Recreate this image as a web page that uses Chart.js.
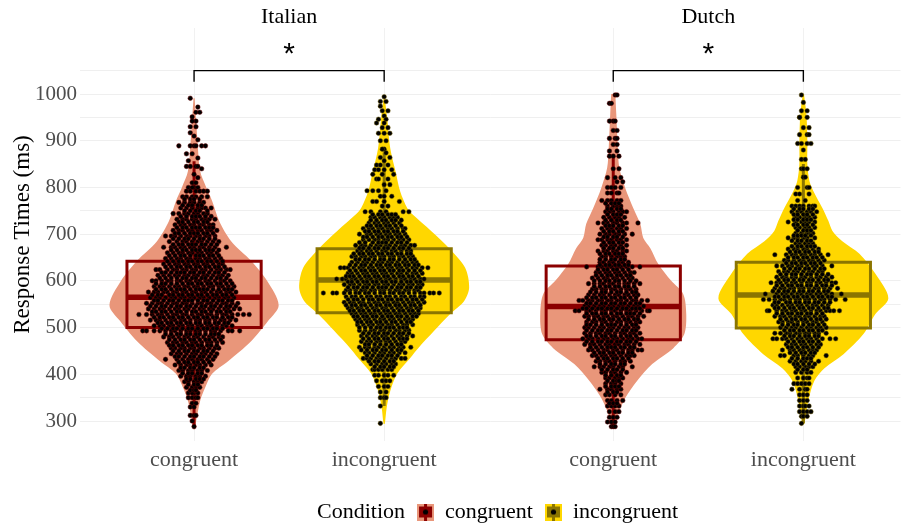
<!DOCTYPE html>
<html>
<head>
<meta charset="utf-8">
<title>Response Times</title>
<style>
  html, body { margin: 0; padding: 0; background: #fff; }
  canvas { display: block; }
</style>
<script src="https://cdn.jsdelivr.net/npm/chart.js@4"></script>
</head>
<body>
<canvas id="my-chart" width="905" height="524"></canvas>
<script>
'use strict';

// ******** DATA **************
let facetNames = ['Italian', 'Dutch'];
let conditionNames = ['congruent', 'incongruent'];
let categoryLabels = ['congruent', 'incongruent', 'congruent', 'incongruent'];
let categoryPositions = [1, 2, 3.205, 4.205];
let facetCentres = [1.5, 3.705];
let gridValues = [300, 350, 400, 500, 550, 600, 700, 750, 800, 900, 950, 1000, 1050];
let tickLabels = [300, 400, 500, 600, 700, 800, 900, 1000];
let starLabel = '*';

// box stats: low whisker, q1, median, q3, high whisker
let italianCongruentBox = [288, 500, 565, 642, 856];
let italianIncongruentBox = [332, 532, 602, 669, 875];
let dutchCongruentBox = [290, 474, 545, 632, 867];
let dutchIncongruentBox = [295, 499, 570, 640, 850];

// violin outlines: response time and half width in category units
let italianCongruentRt = [991, 942, 899, 835, 801, 771, 728, 685, 643, 600, 548, 514, 471, 428, 401, 371, 343, 300, 283];
let italianCongruentWidth = [.003, .011, .018, .032, .063, .095, .132, .195, .300, .384, .445, .389, .300, .179, .095, .058, .032, .011, .003];
let italianIncongruentRt = [991, 949, 884, 829, 792, 756, 743, 707, 670, 628, 585, 557, 529, 493, 456, 435, 401, 364, 328, 294];
let italianIncongruentWidth = [.003, .016, .032, .063, .084, .121, .147, .247, .342, .426, .447, .421, .347, .263, .179, .137, .068, .032, .013, .003];
let dutchCongruentRt = [1000, 957, 884, 842, 799, 756, 722, 692, 670, 636, 600, 572, 529, 486, 456, 422, 386, 349, 315, 285];
let dutchCongruentWidth = [.011, .016, .024, .032, .063, .105, .142, .158, .195, .237, .305, .368, .384, .374, .316, .205, .126, .063, .026, .005];
let dutchIncongruentRt = [1000, 957, 899, 850, 814, 792, 756, 728, 707, 685, 658, 615, 563, 529, 486, 443, 413, 386, 343, 294];
let dutchIncongruentWidth = [.003, .016, .021, .021, .032, .053, .100, .132, .153, .205, .295, .379, .447, .379, .316, .211, .111, .058, .026, .005];

// trial dots: each row is [rt, then jitter in hundredths of a category]
let italianCongruentDots = [
  [991,-2],[972,2],[961,1,3],[951,-1],[942,1,-1],[930,-2,1],[917,-2],[910,0],[902,2],[889,-8,-2,0,1,4,6],[872,-4,-1],[863,2],[857,-3],[845,-4,-2,1,2],[840,4],[828,0],[821,2],[810,-1,1],
  [800,-3,0,2,-1],[792,-4,-2,1,3,5,7],[780,-6,-4,-1,1,4,7],[768,-5,-2,0,3,5,-8],[756,-7,-4,-1,2,4,6,9],[744,-8,-5,-3,0,2,5,7,-11],[732,-9,-6,-4,-1,1,4,6,8,11],[720,-10,-7,-5,-2,0,3,5,8,10],
  [708,-11,-8,-6,-3,-1,2,4,7,9,12],[696,-12,-10,-7,-4,-2,1,3,6,8,11,-15],[684,-13,-9,-6,-4,-1,2,4,7,10,13],[672,-12,-10,-7,-5,-2,0,3,5,8,11,-16,17],[660,-14,-11,-8,-6,-3,-1,2,4,7,9,12],
  [648,-15,-12,-9,-7,-4,-2,1,3,6,8,11,14],[636,-16,-13,-10,-8,-5,-3,0,2,5,7,10,13,15],[624,-20,-18,-14,-11,-9,-6,-4,-1,1,4,6,9,12,14,17,19],[612,-19,-16,-13,-10,-8,-5,-3,0,2,5,7,10,13,15,18],
  [600,-22,-20,-17,-14,-12,-9,-7,-4,-2,1,3,6,8,11,14,16,19],[588,-21,-18,-16,-13,-10,-8,-5,-3,0,2,5,8,10,13,15,18,21],[576,-24,-21,-19,-16,-14,-11,-9,-6,-4,-1,1,4,6,9,12,14,17,19,22],
  [564,-23,-20,-18,-15,-12,-10,-7,-5,-2,0,3,5,8,11,13,16,18,21],[552,-25,-22,-19,-17,-14,-11,-9,-6,-4,-1,2,4,7,9,12,15,17,20,23],[540,-24,-21,-18,-16,-13,-10,-8,-5,-3,0,3,5,8,10,13,16,18,21,24],
  [528,-29,-25,-22,-19,-17,-14,-11,-9,-6,-4,-1,2,4,7,9,12,15,17,20,23,26,29],[516,-23,-20,-18,-15,-12,-10,-7,-5,-2,1,3,6,8,11,14,16,19,22],[504,-21,-18,-16,-13,-11,-8,-6,-3,-1,2,4,7,9,12,15,17,20],
  [493,-27,-25,-21,-18,-15,-12,-10,-7,-4,-2,1,3,6,9,11,14,18,20,24],[480,-16,-13,-11,-8,-5,-3,0,2,5,8,10,13,15],[468,-14,-11,-9,-6,-4,-1,1,4,7,9,12,15],[456,-12,-10,-7,-5,-2,0,3,5,8,11,13],
  [444,-12,-9,-7,-4,-1,1,4,6,9,12],[432,-15,-9,-6,-3,-1,2,4,7,10],[420,-10,-7,-4,-2,1,3,6,9],[408,-8,-6,-3,-1,2,4,7],[396,-7,-4,-2,1,3,6],[384,-5,-3,0,2,4],[372,-4,-1,1,3],[360,-3,0,2,-1],
  [350,-3,-1,1,2],[338,-1,1],[330,-2,0],[312,-2,0,1],[300,-1],[288,0],
  [775,-5,-2,0,3],[762,-6,-3,-1,2,4],[750,-5,-2,1,3,7],[738,-7,-4,-1,1,3,6,9],[726,-8,-6,-3,0,2,5,7],[714,-9,-6,-4,-1,1,3,6,8,10],[702,-10,-8,-5,-2,0,2,5,7,10],[690,-11,-8,-5,-3,0,3,5,8,11],
  [678,-11,-8,-6,-3,-1,1,4,6,9,12],[666,-12,-9,-6,-4,-1,1,3,6,8,10,13],[654,-13,-10,-7,-5,-2,1,3,5,8,10,13],[642,-14,-11,-8,-6,-3,-1,2,4,7,9,12,15],[630,-15,-12,-9,-7,-4,-2,1,3,6,8,11,13,16],
  [618,-17,-15,-12,-9,-7,-5,-2,0,3,5,8,11,13,16],[606,-18,-15,-12,-9,-6,-4,-1,1,4,6,9,12,14,17],[594,-20,-17,-15,-12,-9,-6,-3,-1,2,4,7,9,12,14,17,20],[582,-20,-17,-15,-12,-9,-7,-5,-2,1,3,5,7,10,13,16,18,20],
  [570,-22,-19,-17,-13,-11,-8,-6,-3,-1,2,4,7,10,12,15,17,20],[558,-21,-19,-16,-13,-11,-8,-5,-3,-1,2,5,7,10,13,15,18,20],[546,-23,-20,-17,-15,-12,-9,-7,-4,-2,1,4,6,9,11,14,17,19,22],
  [534,-22,-20,-17,-15,-12,-9,-7,-4,-1,1,4,6,9,12,14,17,19],[522,-21,-18,-16,-13,-11,-8,-6,-3,0,2,5,7,10,12,15,18,20],[510,-19,-17,-14,-12,-9,-7,-4,-2,1,3,6,8,11,13,16,18],
  [498,-17,-14,-11,-9,-6,-3,-1,2,5,7,10,12,15],[486,-15,-12,-9,-7,-4,-2,1,3,6,9,11,13],[474,-13,-10,-7,-5,-2,0,3,6,8,11,14],[462,-13,-11,-8,-6,-3,-1,2,4,7,9,12],[450,-11,-8,-5,-3,0,2,5,7,10],
  [438,-10,-8,-5,-2,0,3,5,8,11],[426,-8,-5,-3,0,2,5,8],[414,-7,-5,-2,0,3,5],[402,-6,-3,-1,2,4],[390,-4,-2,1,3,5],[378,-3,0,2],[366,-2,0,1]
];
let italianIncongruentDots = [
  [994,0],[984,-2,1],[974,-2],[964,-1,2],[953,0],[946,-3,1],[938,-4,0],[928,2,-1],[916,0,-3,3],[900,-2,1],[882,0,-1],[874,1],[864,-2,3],[857,0],[848,-4,-2,2],[838,-5,-3,0,4],[828,-6,-1,5],[818,-4,-3,2],
  [806,3,0],[793,-9,-6,-3,1],[781,-2,0,4],[770,-6,-4,0,8],[760,-1,2],[748,-10,-7,-2,1,10,13],[736,-7,-5,-2,0,3,5,7],[724,-8,-5,-3,0,2,5,8],[712,-11,-8,-6,-3,-1,2,4,7,10,11],[700,-13,-9,-7,-4,-2,1,3,6,8,11],
  [688,-11,-8,-5,-3,0,2,5,8,10,13],[676,-15,-12,-10,-7,-4,-2,1,3,6,9,11,14,16],[664,-14,-12,-9,-7,-4,-1,1,4,6,9,12,14],[652,-17,-15,-12,-10,-7,-5,-2,0,3,5,8,10,13,15],[640,-17,-14,-11,-9,-6,-3,-1,2,4,7,10,12,15,17],
  [628,-23,-21,-19,-16,-13,-11,-8,-6,-3,-1,2,4,7,9,12,15,17,20,23],[616,-19,-17,-14,-11,-9,-6,-4,-1,1,4,7,9,12,15,17,20],[604,-25,-22,-20,-17,-15,-12,-9,-7,-4,-2,1,3,6,9,11,14,16,19,21],
  [592,-21,-18,-16,-13,-10,-8,-5,-3,0,2,5,8,10,13,15,18,20],[580,-20,-18,-15,-12,-10,-7,-5,-2,0,3,6,8,11,13,16,18],[574,-32,-27,-25,-21,-18,-15,-13,-10,-8,-5,-2,0,3,5,8,10,13,16,19,21,24,26,29],
  [566,-20,-17,-15,-12,-9,-7,-4,-2,1,3,6,9,11,14,16,19,21],[554,-21,-18,-16,-13,-11,-8,-5,-3,0,2,5,7,10,13,15,18,21],[542,-19,-17,-14,-12,-9,-6,-4,-1,1,4,7,9,12,14,17,19],[530,-17,-15,-12,-10,-7,-5,-2,1,3,6,8,11,14,16,18],
  [518,-15,-13,-10,-8,-5,-2,0,3,5,8,11,13,15],[506,-14,-11,-8,-6,-3,-1,2,4,7,10,12,15],[494,-13,-10,-7,-5,-2,0,3,6,8,11,13],[482,-12,-9,-6,-4,-1,1,4,7,9,12,15],[470,-12,-9,-7,-4,-2,1,3,6,9,11],
  [458,-13,-10,-8,-5,-3,0,3,5,8,10,14],[446,-10,-8,-5,-2,0,3,5,8,11],[434,-11,-9,-7,-4,-2,1,4,6,9,11],[422,-7,-4,-1,1,4,6],[410,-6,-5,-3,-1,2,4],[398,-5,-3,0,2,5],[386,-4,-1,1,3],[374,-3,0,2],[362,-2,1],[350,-2,0,1],[332,-2],[295,-2],
  [742,-6,-3,-1,2,4,6],[730,-7,-4,-1,1,4,6,9],[718,-9,-7,-4,-2,1,3,6,9],[706,-10,-8,-5,-3,0,2,5,7,10],[694,-11,-9,-6,-3,-1,2,4,7,9,12],[682,-13,-10,-6,-3,-1,1,4,7,9,12],[670,-13,-11,-8,-5,-3,0,2,5,8,10,13],
  [658,-16,-13,-11,-8,-6,-3,-1,2,4,7,9,12,14],[646,-15,-13,-10,-8,-5,-2,0,3,5,8,11,14,16],[634,-18,-15,-12,-10,-7,-4,-2,1,3,6,8,11,13,16,18],[622,-18,-15,-12,-10,-7,-5,-2,0,3,5,8,10,13,16,19],
  [610,-20,-18,-16,-13,-10,-8,-5,-3,0,2,5,8,10,13,15,18],[598,-19,-17,-14,-11,-9,-6,-4,-1,1,4,6,9,12,14,17,19],[586,-19,-16,-14,-11,-9,-6,-3,-1,1,4,7,9,12,14,17,19],[560,-19,-16,-14,-11,-8,-6,-3,-1,2,4,7,9,12,15,17,20],
  [548,-20,-17,-15,-12,-10,-7,-4,-2,1,3,6,8,11,14,16,19],[536,-18,-16,-13,-11,-8,-5,-3,0,2,5,8,10,13,15,18],[524,-16,-14,-11,-9,-6,-4,-1,2,4,7,9,12,15,17],[512,-14,-12,-9,-7,-4,-2,1,4,6,9,12,14],
  [500,-13,-10,-7,-4,-2,1,3,5,8,10,12],[488,-11,-8,-5,-3,0,2,5,8,10,13],[476,-11,-8,-5,-3,0,2,5,8,10,12],[464,-10,-8,-5,-2,1,4,7,9],[452,-12,-9,-6,-4,-1,1,4,7,9],[440,-9,-6,-3,-1,2,4,7],[428,-8,-5,-3,0,3,5],[416,-5,-2,0,3,5]
];
let dutchCongruentDots = [
  [998,1,2],[980,-2,-1],[942,-2,0,1],[922,0,2],[905,-2,1,2],[892,0,2],[878,-2,2],[867,-2,0,3],[840,0,3],[821,-3,1,4],[812,2,5],[800,-3,-1,1,4],[788,-3,-1,2,3],[772,-6,-3,-1,2,4],[760,-3,0,2,4],[748,-4,-2,0,3,5,7],
  [736,-5,-2,1,3,6],[724,-8,-5,-3,0,2,5,7,13],[712,-6,-3,-1,2,4,7],[700,-7,-4,-2,1,3,6,10],[688,-8,-6,-3,-1,2,4,7],[676,-6,-4,-1,1,4,7],[664,-8,-5,-3,0,2,5,7],[652,-6,-4,-1,2,4,6],[640,-7,-5,-2,0,3,5,8],
  [630,-14,-8,-6,-3,-1,2,4,7,10,14],[618,-9,-7,-4,-2,1,3,6,9,11],[606,-11,-8,-5,-3,0,2,5,8,10],[594,-13,-10,-7,-5,-2,0,3,6,8,11,14],[582,-11,-9,-6,-4,-1,1,4,7,9,12],[570,-13,-10,-7,-5,-2,1,3,6,8,11,13],
  [558,-18,-16,-13,-11,-8,-6,-3,-1,2,4,7,10,12,15,18],[546,-15,-13,-10,-7,-5,-2,0,3,5,8,11,13,16],[536,-20,-18,-14,-12,-9,-6,-4,-1,1,4,7,9,12,15,18,19],[524,-15,-13,-10,-8,-5,-3,0,2,5,8,10,13,16],
  [512,-14,-11,-9,-6,-4,-1,2,4,7,9,12,14],[500,-15,-13,-10,-7,-5,-2,0,3,6,8,11,13],[488,-15,-12,-9,-7,-4,-2,1,4,6,9,11,14],[476,-16,-13,-11,-8,-5,-3,0,2,5,8,10,13,15],[464,-15,-12,-10,-7,-4,-2,1,3,6,8,11,14],
  [452,-13,-11,-8,-5,-3,0,2,5,8,10,13,15],[440,-11,-9,-6,-4,-1,1,4,7,9,11],[428,-9,-7,-4,-2,1,4,6,9],[416,-10,-7,-5,-2,0,3,5,10],[404,-6,-4,-1,1,4,7],[392,-4,-2,1,3,5],[380,-4,-1,1,4],[368,-7,-3,-1,2,4],
  [356,-4,-2,1,4],[344,-3,-1,2,5],[332,-3,-1,1,3],[320,-2,1,3],[308,-2,0,2],[298,-3,-1,1],[288,-1,0,1],
  [766,-4,-1,1,3],[754,-3,-1,2,4],[742,-3,0,2,4],[730,-4,-1,2,4],[718,-4,-2,0,3,5],[706,-5,-2,0,3,5],[694,-5,-3,0,2,5],[682,-5,-2,0,3,5],[670,-5,-2,0,3,5],[658,-7,-4,-2,1,3,5],[646,-7,-4,-1,1,4,6],
  [634,-7,-4,-2,1,3,6,8],[624,-8,-5,-3,0,2,5,8],[612,-9,-6,-3,-1,2,4,7,9],[600,-10,-7,-4,-2,1,3,6,9,12],[588,-10,-7,-4,-2,1,3,6,8,11],[576,-12,-9,-6,-4,-1,2,4,7,10,12],[564,-14,-11,-9,-6,-4,-1,1,4,6,9,12],
  [552,-14,-12,-9,-6,-4,-1,1,4,6,9,12,14],[541,-16,-14,-11,-8,-6,-3,-1,2,5,7,10,12,14],[530,-14,-11,-9,-6,-4,-1,2,4,7,9,11,14],[518,-13,-10,-7,-5,-2,0,3,6,8,11,13],[506,-14,-12,-9,-6,-3,-1,1,4,7,10,12],
  [494,-14,-11,-8,-6,-3,-1,2,5,7,10,12],[482,-14,-12,-9,-6,-4,-1,1,4,7,9,12],[470,-14,-11,-8,-6,-3,-1,2,4,7,9,12],[458,-12,-9,-6,-3,-1,1,4,6,9,11],[446,-10,-7,-5,-2,0,3,5,8,10],[434,-8,-5,-3,0,2,5,8],
  [422,-7,-4,-1,1,4,6],[410,-6,-3,0,2,5],[398,-4,-1,2,4],[386,-3,0,2,3],[374,-4,-1,1,3],[362,-3,0,2],[338,-2,0,2]
];
let dutchIncongruentDots = [
  [998,-1],[982,0],[964,-1,2],[950,-2,-2,2],[928,0,3],[913,-2,2,3],[894,-3,-1,2,4],[880,0],[860,-1,1],[840,-1,0,2],[822,0,1],[800,-3,2,3],[786,-4,-2,3],[772,-3,1],[760,-6,-4,-2,0,3,5,6],[748,-6,-3,-1,2,4,7],[736,-4,-2,1,3,6],
  [726,-8,-4,-1,1,3,6],[714,-4,-2,1,3,6],[702,-4,-1,2,4,5],[692,-8,-5,-3,0,2,6],[680,-4,-2,1,3,5],[668,-8,-5,-3,0,2,5,8],[656,-15,-9,-6,-4,-1,1,4,6,9,13],[644,-10,-8,-5,-2,0,3,5,8,11],[632,-14,-11,-8,-6,-3,-1,2,5,7,10,15],
  [620,-13,-10,-8,-5,-3,0,3,5,8,10],[608,-14,-11,-9,-6,-4,-1,1,4,7,9,12,15],[596,-17,-14,-12,-9,-6,-4,-1,2,4,7,9,12,15,17],[584,-15,-12,-10,-7,-5,-2,0,3,6,8,11,14,18],[572,-20,-14,-11,-9,-6,-3,-1,2,4,7,9,12,15,20],
  [560,-21,-18,-15,-12,-10,-7,-4,-2,1,3,6,9,11,14,17,22],[548,-16,-14,-11,-8,-6,-3,-1,2,5,7,10,13],[536,-19,-18,-14,-11,-9,-6,-4,-1,1,4,7,9,12,14,16,19],[524,-15,-12,-10,-7,-4,-2,1,3,6,9,11],[512,-13,-11,-8,-6,-3,0,2,5,7,10],
  [500,-12,-9,-6,-4,-1,2,4,7,9,12],[488,-15,-12,-9,-7,-4,-2,1,3,6,8,12],[476,-16,-14,-11,-9,-6,-3,-1,2,4,7,10,14,17],[464,-9,-6,-4,-1,1,4,7,9],[452,-11,-7,-5,-2,0,3,5,7],[440,-12,-10,-5,-3,0,3,5,12],[428,-7,-4,-1,1,4,8],
  [416,-4,-2,1,3,5],[404,-4,-1,2,4],[392,-3,0,2,3],[380,-5,-3,-1,1,3],[368,-6,-2,1,2],[356,-2,0,2],[344,-2,0,2],[332,-2,0,1,3],[320,-2,0,2,4],[310,-1,0,2],[295,-1],
  [754,-5,-2,0,3,5],[742,-5,-3,0,2,5],[731,-5,-3,0,2,4],[720,-5,-3,0,2,5],[708,-3,0,2,4],[697,-5,-3,-1,1,4],[686,-6,-3,-1,2,4],[674,-6,-3,-1,2,4,6],[662,-7,-4,-2,1,3,6,8],[650,-8,-5,-3,0,2,5,7,10],
  [638,-9,-6,-4,-1,1,4,6,9],[626,-10,-7,-4,-2,1,3,6,9,11],[614,-12,-9,-6,-4,-1,2,4,7,10,13],[602,-13,-10,-8,-5,-2,0,3,5,8,11,13],[590,-14,-11,-8,-6,-3,-1,2,4,7,10,12,15],[578,-16,-13,-10,-8,-5,-2,0,3,5,8,11,13],
  [566,-15,-13,-10,-8,-5,-3,0,2,5,8,10,13,15],[554,-15,-13,-9,-7,-4,-2,1,3,6,8,11,14],[542,-15,-13,-10,-7,-5,-2,0,3,5,8,11,13],[530,-14,-11,-8,-6,-3,-1,2,4,7,10],[518,-12,-9,-6,-4,-1,1,4,7,9,12],
  [506,-11,-8,-5,-3,0,3,5,8,11],[494,-10,-7,-5,-2,0,3,5,8,10],[482,-10,-7,-5,-2,1,3,6,8],[470,-8,-5,-2,0,3,5,8],[458,-8,-6,-3,0,2,5,8],[446,-7,-4,-1,1,4,6],[434,-6,-3,0,2,4],[422,-5,-3,0,3,6],[410,-3,0,2]
];

// bracket over each facet, response times of its foot and its bar
let bracketFoot = 1026;
let bracketBar = 1050;
let starRt = 1066;
let facetTitleRt = 1165;

// ********* STYLES ****************
let serifFont = '"Liberation Serif", "Times New Roman", serif';
let starFont = '"Liberation Sans", Arial, sans-serif';
let conditionFill = ['#E9967A', '#FFD700'];
let conditionLine = ['#8B0000', '#8B7500'];
let boxHalfWidth = 0.353;

// *********** HELPER FUNCTIONS ***************

function violinOutline(centre, rts, widths) {
  let outline = [];
  for (let i = 0; i < rts.length; i++) {
    outline.push({ x: centre - widths[i], y: rts[i] });
  }
  for (let i = rts.length - 1; i >= 0; i--) {
    outline.push({ x: centre + widths[i], y: rts[i] });
  }
  return outline;
}

function dotPoints(centre, rows) {
  let points = [];
  rows.forEach(function (row) {
    for (let i = 1; i < row.length; i++) {
      points.push({ x: centre + row[i] / 100, y: row[0] });
    }
  });
  return points;
}

function lineSet(data, color, width, order) {
  return {
    data: data,
    showLine: true,
    borderColor: color,
    borderWidth: width,
    pointRadius: 0,
    fill: false,
    tension: 0,
    order: order
  };
}

function addGroup(datasets, centre, condition, rts, widths, box, rows) {
  let left = centre - boxHalfWidth;
  let right = centre + boxHalfWidth;
  let line = conditionLine[condition];

  datasets.push({
    data: violinOutline(centre, rts, widths),
    showLine: true,
    borderWidth: 0,
    borderColor: 'transparent',
    backgroundColor: conditionFill[condition],
    pointRadius: 0,
    fill: 'shape',
    tension: 0.3,
    order: 5
  });

  // whiskers, box and median
  datasets.push(lineSet([{ x: centre, y: box[0] }, { x: centre, y: box[1] }], line, 3, 4));
  datasets.push(lineSet([{ x: centre, y: box[3] }, { x: centre, y: box[4] }], line, 3, 4));
  datasets.push(lineSet([
    { x: left, y: box[1] }, { x: right, y: box[1] }, { x: right, y: box[3] },
    { x: left, y: box[3] }, { x: left, y: box[1] }, { x: right, y: box[1] }
  ], line, 3, 4));
  datasets.push(lineSet([{ x: left, y: box[2] }, { x: right, y: box[2] }], line, 5.5, 4));

  datasets.push({
    data: dotPoints(centre, rows),
    showLine: false,
    pointRadius: 2.3,
    pointBackgroundColor: '#000',
    pointBorderColor: condition === 0 ? 'rgba(110,0,0,0.9)' : 'rgba(110,90,0,0.9)',
    pointBorderWidth: 0.5,
    order: 3
  });
}

function addBracket(datasets, facet) {
  let a = categoryPositions[facet * 2];
  let b = categoryPositions[facet * 2 + 1];
  datasets.push(lineSet([
    { x: a, y: bracketFoot }, { x: a, y: bracketBar }, { x: b, y: bracketBar }, { x: b, y: bracketFoot }
  ], '#000', 1.4, 1));
}

// legend key: little box plot with a dot on it
function legendKey(condition) {
  let key = document.createElement('canvas');
  key.width = 17;
  key.height = 17;
  let ctx = key.getContext('2d');
  ctx.fillStyle = conditionFill[condition];
  ctx.fillRect(0, 0, 17, 17);
  ctx.fillStyle = conditionLine[condition];
  ctx.fillRect(2, 3, 13, 11);
  ctx.fillRect(7, 0, 3, 17);
  ctx.fillStyle = '#000';
  ctx.beginPath();
  ctx.arc(8.5, 8.5, 2.6, 0, Math.PI * 2);
  ctx.fill();
  return key;
}

function blankKey() {
  let key = document.createElement('canvas');
  key.width = 1;
  key.height = 1;
  return key;
}

// ********* DATASETS *******************
let allSets = [];
addGroup(allSets, categoryPositions[0], 0, italianCongruentRt, italianCongruentWidth, italianCongruentBox, italianCongruentDots);
addGroup(allSets, categoryPositions[1], 1, italianIncongruentRt, italianIncongruentWidth, italianIncongruentBox, italianIncongruentDots);
addGroup(allSets, categoryPositions[2], 0, dutchCongruentRt, dutchCongruentWidth, dutchCongruentBox, dutchCongruentDots);
addGroup(allSets, categoryPositions[3], 1, dutchIncongruentRt, dutchIncongruentWidth, dutchIncongruentBox, dutchIncongruentDots);
addBracket(allSets, 0);
addBracket(allSets, 1);

// ********* PLUGINS *******************

// facet strip titles and the stars above the brackets
let facetText = {
  id: 'facetText',
  afterDraw: function (chart) {
    let ctx = chart.ctx;
    let x = chart.scales.x;
    let y = chart.scales.y;
    ctx.save();
    ctx.textAlign = 'center';
    ctx.fillStyle = '#000';
    facetCentres.forEach(function (centre, i) {
      ctx.textBaseline = 'middle';
      ctx.font = '22px ' + serifFont;
      ctx.fillText(facetNames[i], x.getPixelForValue(centre), y.getPixelForValue(facetTitleRt));
      ctx.textBaseline = 'alphabetic';
      ctx.font = '30px ' + starFont;
      ctx.fillText(starLabel, x.getPixelForValue(centre), y.getPixelForValue(starRt));
    });
    ctx.restore();
  }
};

// puts the legend where ggplot had it, under the middle of the panels
let legendPlace = {
  id: 'legendPlace',
  afterLayout: function (chart) {
    chart.legend.left = 277;
    chart.legend.top = 489;
  }
};

// ********* CHART *******************
let canvasElem = document.getElementById('my-chart');

new Chart(canvasElem, {
  type: 'scatter',
  data: { datasets: allSets },
  plugins: [legendPlace, facetText],
  options: {
    responsive: false,
    animation: false,
    devicePixelRatio: 1,
    layout: { padding: { top: 28, left: 0, right: 0, bottom: 0 } },
    scales: {
      x: {
        type: 'linear',
        min: 0.4,
        max: 4.716,
        border: { display: false },
        grid: { color: '#f1f1f1', drawTicks: false },
        afterBuildTicks: function (axis) {
          axis.ticks = categoryPositions.map(function (v) { return { value: v }; });
        },
        afterFit: function (axis) { axis.height = 39; },
        ticks: {
          autoSkip: false,
          maxRotation: 0,
          padding: 6,
          color: '#4d4d4d',
          font: { family: serifFont, size: 22 },
          callback: function (value) {
            return categoryLabels[categoryPositions.indexOf(value)];
          }
        }
      },
      y: {
        type: 'linear',
        min: 257.2,
        max: 1141.3,
        border: { display: false },
        grid: { color: '#efefef', drawTicks: false },
        afterBuildTicks: function (axis) {
          axis.ticks = gridValues.map(function (v) { return { value: v }; });
        },
        afterFit: function (axis) { axis.width = 80; },
        title: {
          display: true,
          text: 'Response Times (ms)',
          color: '#000',
          font: { family: serifFont, size: 23 },
          padding: { top: 9, bottom: 0 }
        },
        ticks: {
          autoSkip: false,
          padding: 3,
          color: '#4d4d4d',
          font: { family: serifFont, size: 21 },
          callback: function (value) {
            return tickLabels.indexOf(value) >= 0 ? String(value) : '';
          }
        }
      }
    },
    plugins: {
      tooltip: { enabled: false },
      title: { display: false },
      legend: {
        display: true,
        position: 'bottom',
        align: 'start',
        onClick: null,
        labels: {
          usePointStyle: true,
          pointStyleWidth: 17,
          padding: 12,
          color: '#000',
          font: { family: serifFont, size: 22 },
          generateLabels: function () {
            return [
              { text: 'Condition', pointStyle: blankKey(), lineWidth: 0, fontColor: '#000' },
              { text: conditionNames[0], pointStyle: legendKey(0), lineWidth: 0, fontColor: '#000' },
              { text: conditionNames[1], pointStyle: legendKey(1), lineWidth: 0, fontColor: '#000' }
            ];
          }
        }
      }
    }
  }
});
</script>
</body>
</html>
